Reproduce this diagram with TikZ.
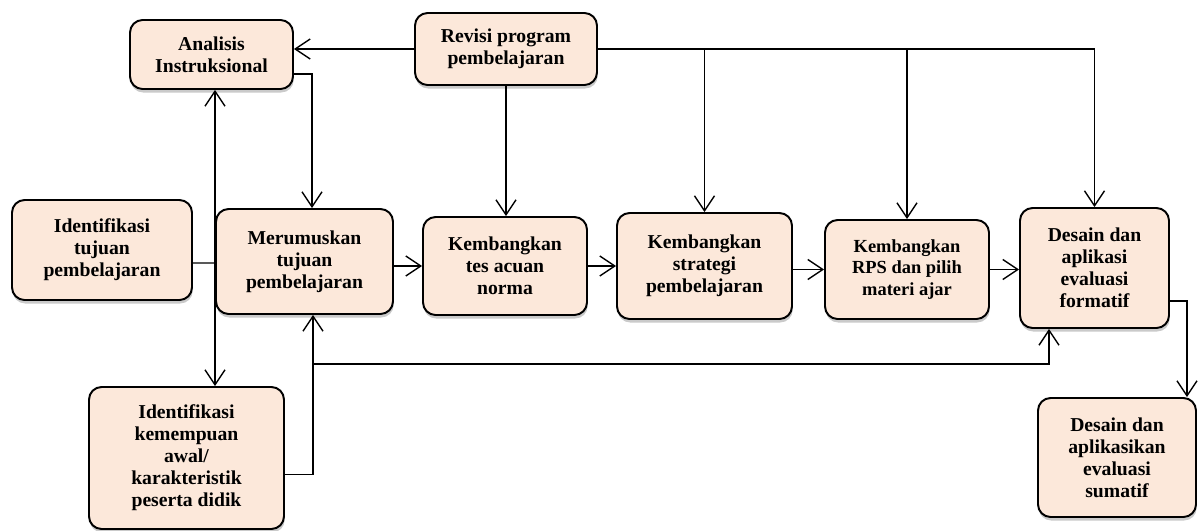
\documentclass[tikz,border=0pt]{standalone}
\usepackage{fontspec}
\setmainfont{Liberation Serif}
\usetikzlibrary{arrows.meta,shadows}

\definecolor{boxfill}{HTML}{FCE8DA}

\tikzset{
  box/.style={draw, line width=1.1pt, rounded corners=0.25cm, fill=boxfill,
    align=center, inner sep=2pt,
    font=\bfseries\fontsize{11.2}{12.5}\selectfont,
    drop shadow={shadow xshift=0.4pt, shadow yshift=-2pt, opacity=0.35, fill=black!60}},
}

\begin{document}
\begin{tikzpicture}[x=0.02cm, y=-0.02cm, line width=0.8pt,
    >={Straight Barb[length=0.3cm,width=0.4cm]}]
    \useasboundingbox (0,0) rectangle (1198,531);

    % kotak-kotak langkah
    \node[box, minimum width=3.26cm, minimum height=1.38cm] (ai) at (211.5,54.5) {Analisis\\Instruksional};
    \node[box, minimum width=3.64cm, minimum height=1.44cm] (rev) at (506,49) {Revisi program\\pembelajaran};
    \node[box, minimum width=3.6cm, minimum height=2cm] (itp) at (102,250) {Identifikasi\\tujuan\\pembelajaran};
    \node[box, minimum width=3.54cm, minimum height=2.1cm] (mer) at (304.5,261.5) {Merumuskan\\tujuan\\pembelajaran};
    \node[box, minimum width=3.28cm, minimum height=1.96cm] (tes) at (505,266) {Kembangkan\\tes acuan\\norma};
    \node[box, minimum width=3.5cm, minimum height=2.12cm] (str) at (704.5,266) {Kembangkan\\strategi\\pembelajaran};
    \node[box, minimum width=3.28cm, minimum height=1.98cm,
          font=\bfseries\fontsize{10.5}{12}\selectfont] (rps) at (907,269.5) {Kembangkan\\RPS dan pilih\\materi ajar};
    \node[box, minimum width=2.98cm, minimum height=2.4cm] (for) at (1094.5,268) {Desain dan\\aplikasi\\evaluasi\\formatif};
    \node[box, minimum width=3.9cm, minimum height=2.84cm] (ika) at (186.5,458) {Identifikasi\\kemempuan\\awal/\\karakteristik\\peserta didik};
    \node[box, minimum width=3.16cm, minimum height=2.38cm] (sum) at (1117,457.5) {Desain dan\\aplikasikan\\evaluasi\\sumatif};

    % umpan balik dari revisi
    \draw[->] (rev.west) -- (rev.west -| ai.east);
    \draw[->] (rev.east) -| (for.north);
    \foreach \n in {str,rps} {
        \draw[->] (rev.east -| \n.north) -- (\n.north);
    }
    \draw[->] (rev.south) -- (rev.south |- tes.north);

    % alur utama
    \draw[->] ([yshift=-0.39cm]ai.east) -| ([xshift=0.15cm]mer.north);
    \draw[->] (mer.east |- tes) -- (tes.west);
    \draw[->] (tes.east |- str) -- (str.west);
    \draw[->] (str.east |- rps) -- (rps.west);
    \draw[->] (rps.east |- rps) -- (rps.east -| for.west);
    \draw[->] ([yshift=-0.66cm]for.east) -| ([xshift=1.4cm]sum.north);

    % garis tegak di kiri
    \coordinate (j) at (215,263);
    \draw ([yshift=-0.26cm]itp.east) -- (j);
    \draw[<->] (j |- ai.south) -- (j |- ika.north);

    % dari kemampuan awal
    \coordinate (k) at (313,364);
    \draw[->] ([yshift=-0.33cm]ika.east) -| ([xshift=0.17cm]mer.south);
    \draw[->] (k) -| ([xshift=-0.91cm]for.south);
\end{tikzpicture}
\end{document}
